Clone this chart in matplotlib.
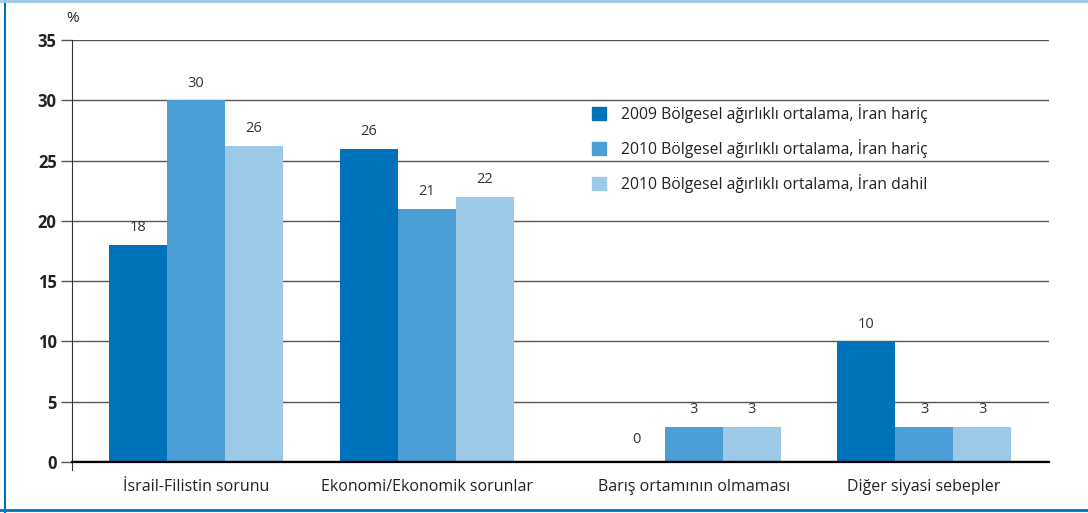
import matplotlib
matplotlib.use("Agg")
import matplotlib.pyplot as plt
from matplotlib.patches import Rectangle
from matplotlib.lines import Line2D

categories = ["İsrail-Filistin sorunu", "Ekonomi/Ekonomik sorunlar",
              "Barış ortamının olmaması", "Diğer siyasi sebepler"]
series_names = ["2009 Bölgesel ağırlıklı ortalama, İran hariç",
                "2010 Bölgesel ağırlıklı ortalama, İran hariç",
                "2010 Bölgesel ağırlıklı ortalama, İran dahil"]
values_2009 = [18.0, 26.0, 0.0, 10.0]
values_2010_excl = [30.0, 21.0, 2.9, 2.9]
values_2010_incl = [26.2, 22.0, 2.9, 2.9]
labels_2009 = ["18", "26", "0", "10"]
labels_2010_excl = ["30", "21", "3", "3"]
labels_2010_incl = ["26", "22", "3", "3"]
yticks = [0, 5, 10, 15, 20, 25, 30, 35]

# layout (category centre positions, not data)
cat_pos = [0.0, 0.952, 2.052, 3.0]
bar_w = 0.239
colors = ["#0072BC", "#4B9FD6", "#9CC9E8"]

plt.rcParams['font.family'] = ['Open Sans', 'DejaVu Sans']

fig = plt.figure(figsize=(10.88, 5.13), dpi=100)
W, H = 1088, 513
ax = fig.add_axes([72 / W, 1 - 462 / H, (1049 - 72) / W, (462 - 40) / H])

series = [values_2009, values_2010_excl, values_2010_incl]
labels = [labels_2009, labels_2010_excl, labels_2010_incl]
for i, (vals, labs) in enumerate(zip(series, labels)):
    xs = [p + (i - 1) * bar_w for p in cat_pos]
    ax.bar(xs, vals, width=bar_w, color=colors[i], zorder=3, label=series_names[i])
    for x, v, l in zip(xs, vals, labs):
        off = 7 if v > 0 else 11
        ax.annotate(l, (x, v), xytext=(0, off), textcoords="offset points",
                    ha="center", va="bottom", fontsize=10.5, color="#333333")

ax.set_xlim(-0.511, 3.515)
ax.set_ylim(0, 35)
ax.set_yticks(yticks)
ax.set_yticklabels([str(t) for t in yticks], fontsize=12, fontweight="bold", color="#222222")
ax.yaxis.grid(True, color="#555555", linewidth=1.0, zorder=0)
ax.tick_params(axis="y", length=8, width=1, color="#555555", pad=3)
ax.set_xticks(cat_pos)
ax.set_xticklabels(categories, fontsize=11.5, color="#222222")
ax.tick_params(axis="x", length=0, pad=12)
for s in ["top", "right"]:
    ax.spines[s].set_visible(False)
ax.spines["bottom"].set_linewidth(1.6)
ax.spines["bottom"].set_zorder(4)
ax.spines["left"].set_color("#333333")
ax.spines["left"].set_bounds(-0.7, 35)
ax.axhline(0, color="#111111", linewidth=1.6, zorder=4)

fig.text(73 / W, 1 - 18 / H, "%", fontsize=11, ha="center", va="center", color="#222222")

handles = [Rectangle((0, 0), 1, 1, color=c) for c in colors]
leg = ax.legend(handles, series_names, loc="upper left",
                bbox_to_anchor=((586 - 72) / (1049 - 72), (462 - 98) / (462 - 40)),
                frameon=False, fontsize=11.3, handlelength=0.9, handleheight=0.9,
                handletextpad=0.9, labelspacing=1.02, borderaxespad=0)
for t in leg.get_texts():
    t.set_color("#222222")

# figure border
fig.add_artist(Line2D([5 / W, 5 / W], [0, 1], color="#0072BC", linewidth=1.5, transform=fig.transFigure))
fig.add_artist(Line2D([0, 1], [1 - 1 / H, 1 - 1 / H], color="#9CC9E8", linewidth=2, transform=fig.transFigure))
fig.add_artist(Line2D([0, 1], [1 - 510 / H, 1 - 510 / H], color="#0072BC", linewidth=2, transform=fig.transFigure))

fig.savefig("out.png", dpi=100)
